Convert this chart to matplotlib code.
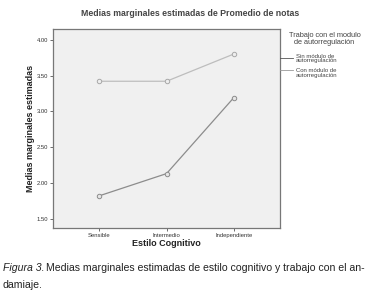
import matplotlib
matplotlib.use("Agg")
import matplotlib.pyplot as plt

categorias = ["Sensible", "Intermedio", "Independiente"]
sin_modulo = [1.82, 2.13, 3.19]
con_modulo = [3.42, 3.42, 3.80]
y_ticks = [1.50, 2.00, 2.50, 3.00, 3.50, 4.00]

plt.rcParams['font.family'] = ['Liberation Sans', 'DejaVu Sans']

fig = plt.figure(figsize=(3.73, 3.02), dpi=100)
ax = fig.add_axes([0.142, 0.245, 0.609, 0.659])
ax.set_facecolor("#f0f0f0")

x = list(range(len(categorias)))
l1, = ax.plot(x, sin_modulo, color="#8c8c8c", lw=0.9, marker="o", ms=3.2,
              mfc="#e6e6e6", mec="#8c8c8c", mew=0.7)
l2, = ax.plot(x, con_modulo, color="#bdbdbd", lw=0.9, marker="o", ms=3.2,
              mfc="#eeeeee", mec="#a8a8a8", mew=0.7)

ax.set_xlim(-0.69, 2.69)
ax.set_ylim(1.37, 4.15)
ax.set_xticks(x)
ax.set_xticklabels(categorias, fontsize=4.2, color="#333333")
ax.set_yticks(y_ticks)
ax.set_yticklabels(["%.2f" % v for v in y_ticks], fontsize=4.2, color="#333333")
ax.tick_params(length=2.5, width=0.6, color="#555555", pad=1)
for s in ax.spines.values():
    s.set_color("#777777")
    s.set_linewidth(0.9)

ax.set_xlabel("Estilo Cognitivo", fontsize=6.5, fontweight="bold", labelpad=1, color="#222222")
ax.set_ylabel("Medias marginales estimadas", fontsize=6.5, fontweight="bold", labelpad=1, color="#222222")
fig.text(0.51, 0.955, "Medias marginales estimadas de Promedio de notas",
         ha="center", va="center", fontsize=6.3, fontweight="bold", color="#444444")

# leyenda a la derecha
fig.text(0.870, 0.872, "Trabajo con el modulo\nde autorregulación", ha="center", va="center",
         fontsize=5.3, color="#444444", linespacing=1.0)
fig.lines.append(plt.Line2D([0.751, 0.786], [0.808, 0.808], color="#555555", lw=0.6,
                            transform=fig.transFigure))
fig.lines.append(plt.Line2D([0.751, 0.786], [0.768, 0.768], color="#999999", lw=0.6,
                            transform=fig.transFigure))
fig.text(0.793, 0.806, "Sin módulo de\nautorregulación", ha="left", va="center",
         fontsize=4.3, color="#444444", linespacing=0.95)
fig.text(0.793, 0.758, "Con módulo de\nautorregulación", ha="left", va="center",
         fontsize=4.3, color="#444444", linespacing=0.95)

# pie de figura
fig.text(0.008, 0.112, "Figura 3.", ha="left", va="center", fontsize=7.6, style="italic", color="#222222")
fig.text(0.124, 0.112, "Medias marginales estimadas de estilo cognitivo y trabajo con el an-",
         ha="left", va="center", fontsize=7.6, color="#222222")
fig.text(0.008, 0.055, "damiaje.", ha="left", va="center", fontsize=7.6, color="#222222")

fig.savefig("out.png", dpi=100, facecolor="white")
